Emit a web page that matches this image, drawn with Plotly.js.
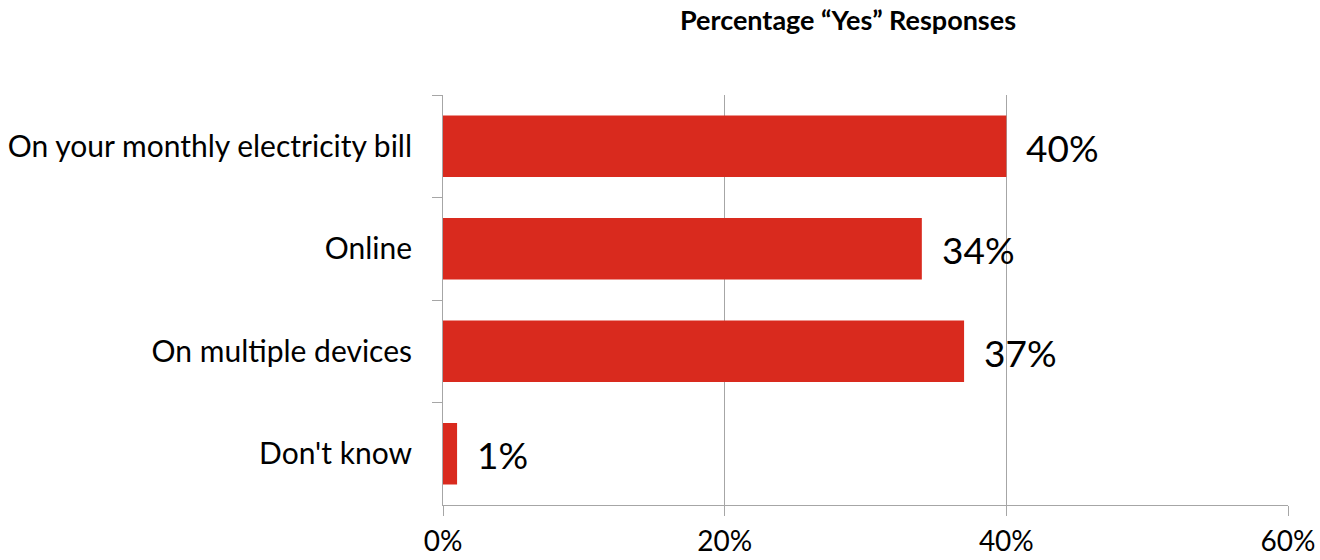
<!DOCTYPE html>
<html>
<head>
<meta charset="utf-8">
<script src="https://cdn.plot.ly/plotly-3.0.1.min.js"></script>
<style>html,body{margin:0;padding:0;background:#fff;}#chart{width:1320px;height:560px;}</style>
</head>
<body>
<div id="chart"></div>
<script>
const categories = ["On your monthly electricity bill", "Online", "On multiple devices", "Don't know"];
const values = [40, 34, 37, 1];
const tickValues = [0, 20, 40, 60];
const tickLabels = ["0%", "20%", "40%", "60%"];
const chartTitle = "Percentage “Yes” Responses";

const FONT = "Lato, 'Open Sans', sans-serif";
const trace = {
  type: "bar",
  orientation: "h",
  y: categories,
  x: values,
  marker: {color: "#D92A1E", line: {width: 0}},
  hoverinfo: "skip",
  textposition: "none"
};
const annotations = values.map((v, i) => ({
  x: v, y: categories[i], xref: "x", yref: "y",
  text: v + "%", showarrow: false, xanchor: "left", yanchor: "middle",
  xshift: 18, yshift: -1, font: {family: FONT, size: 37, color: "#000"}
}));
const layout = {
  width: 1320, height: 560,
  margin: {l: 443, r: 32, t: 95, b: 55},
  paper_bgcolor: "#fff", plot_bgcolor: "#fff",
  showlegend: false,
  bargap: 0.4,
  title: {text: "<b>" + chartTitle + "</b>", x: 848/1320, xref: "container", xanchor: "center",
          y: 1 - 21/560, yref: "container", yanchor: "middle",
          font: {family: FONT, size: 27, color: "#000"}},
  xaxis: {
    range: [0, 60], tickvals: tickValues, ticktext: tickLabels,
    showgrid: true, gridcolor: "#A6A6A6", gridwidth: 1, zeroline: false,
    showline: true, linecolor: "#A6A6A6", linewidth: 1,
    ticks: "outside", ticklen: 10, tickcolor: "#A6A6A6",
    tickfont: {family: FONT, size: 28, color: "#000"}, ticklabelstandoff: 1, fixedrange: true
  },
  yaxis: {
    type: "category", categoryorder: "array", categoryarray: categories, autorange: "reversed",
    showline: true, linecolor: "#A6A6A6", linewidth: 1, showgrid: false, zeroline: false,
    ticks: "outside", ticklen: 10, tickcolor: "#A6A6A6", tickson: "boundaries",
    tickfont: {family: FONT, size: 30, color: "#000"}, ticklabelstandoff: 24, fixedrange: true
  },
  annotations: annotations
};
Plotly.newPlot("chart", [trace], layout, {displayModeBar: false, staticPlot: true});
</script>
</body>
</html>
